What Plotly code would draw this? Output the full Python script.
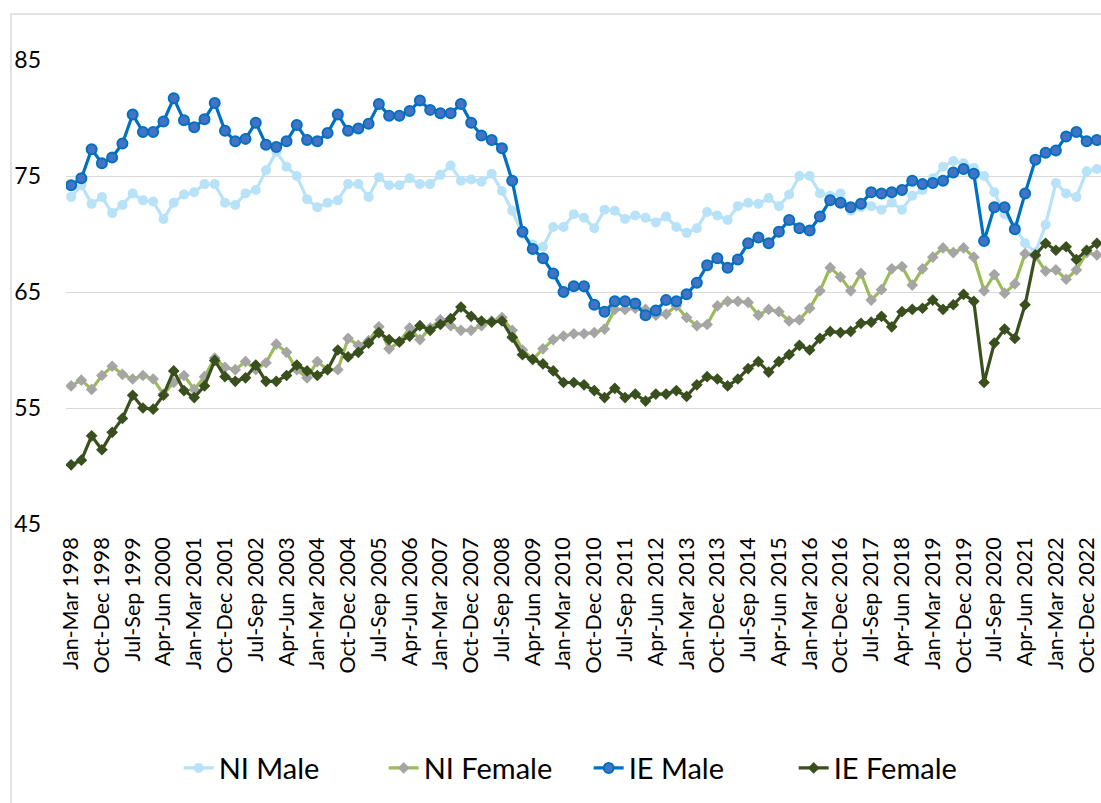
import plotly.graph_objects as go

QUARTERS = ["Jan-Mar", "Apr-Jun", "Jul-Sep", "Oct-Dec"]
START_YEAR = 1998
N_POINTS = 101
CATEGORIES = [f"{QUARTERS[i % 4]} {START_YEAR + i // 4}" for i in range(N_POINTS)]
TICK_LABELS = CATEGORIES[::3]

NI_MALE = [
    73.2, 74.2, 72.6, 73.2, 71.8, 72.5, 73.5, 72.9, 72.8, 71.3,
    72.7, 73.4, 73.6, 74.3, 74.3, 72.7, 72.5, 73.5, 73.8, 75.5,
    77.1, 75.8, 75.0, 73.0, 72.3, 72.7, 72.9, 74.3, 74.3, 73.2,
    74.9, 74.2, 74.2, 74.8, 74.3, 74.3, 75.1, 75.9, 74.6, 74.7,
    74.5, 75.2, 73.7, 72.0, 70.0, 69.1, 68.9, 70.6, 70.6, 71.7,
    71.4, 70.5, 72.1, 72.0, 71.3, 71.6, 71.4, 71.0, 71.5, 70.6,
    70.1, 70.5, 71.9, 71.6, 71.2, 72.4, 72.7, 72.6, 73.1, 72.4,
    73.4, 75.0, 75.0, 73.5, 73.3, 73.5, 72.0, 72.3, 72.4, 72.1,
    72.7, 72.1, 73.3, 73.8, 74.8, 75.8, 76.3, 76.1, 75.7, 75.0,
    73.6, 71.7, 70.6, 69.2, 68.4, 70.8, 74.4, 73.5, 73.2, 75.4,
    75.6,
]

NI_FEMALE = [
    56.9, 57.4, 56.6, 57.8, 58.6, 57.9, 57.5, 57.8, 57.5, 56.2,
    57.2, 57.8, 56.6, 57.7, 59.3, 58.5, 58.3, 59.0, 58.3, 58.9,
    60.5, 59.8, 58.3, 57.6, 59.0, 58.3, 58.3, 61.0, 60.4, 60.8,
    62.0, 60.1, 60.7, 61.9, 60.9, 61.9, 62.6, 62.1, 61.7, 61.7,
    62.1, 62.5, 62.8, 61.7, 60.0, 59.2, 60.1, 60.9, 61.2, 61.4,
    61.4, 61.5, 61.8, 63.5, 63.5, 63.6, 63.5, 63.0, 63.1, 63.8,
    62.8, 62.1, 62.2, 63.8, 64.2, 64.2, 64.1, 63.0, 63.5, 63.3,
    62.5, 62.6, 63.6, 65.1, 67.1, 66.3, 65.1, 66.6, 64.3, 65.2,
    67.0, 67.2, 65.6, 67.0, 68.0, 68.8, 68.4, 68.8, 68.0, 65.1,
    66.5, 64.9, 65.7, 68.3, 68.1, 66.8, 66.9, 66.1, 66.9, 68.4,
    68.2,
]

IE_MALE = [
    74.2, 74.8, 77.3, 76.1, 76.6, 77.8, 80.3, 78.8, 78.8, 79.7,
    81.7, 79.8, 79.2, 79.9, 81.3, 78.9, 78.0, 78.2, 79.6, 77.7,
    77.5, 78.0, 79.4, 78.1, 78.0, 78.7, 80.3, 78.9, 79.1, 79.5,
    81.2, 80.2, 80.2, 80.6, 81.5, 80.7, 80.4, 80.4, 81.2, 79.6,
    78.5, 78.1, 77.4, 74.6, 70.2, 68.7, 67.9, 66.6, 65.0, 65.5,
    65.5, 63.9, 63.3, 64.2, 64.2, 64.0, 63.0, 63.4, 64.3, 64.2,
    64.8, 65.8, 67.3, 67.9, 67.1, 67.8, 69.2, 69.7, 69.2, 70.2,
    71.2, 70.5, 70.3, 71.5, 72.9, 72.7, 72.3, 72.6, 73.6, 73.5,
    73.6, 73.8, 74.6, 74.3, 74.4, 74.6, 75.3, 75.6, 75.2, 69.4,
    72.3, 72.3, 70.4, 73.5, 76.4, 77.0, 77.2, 78.4, 78.8, 78.0,
    78.1,
]

IE_FEMALE = [
    50.1, 50.5, 52.6, 51.4, 52.9, 54.1, 56.1, 55.0, 54.9, 56.1,
    58.2, 56.5, 55.9, 56.9, 59.1, 57.7, 57.3, 57.6, 58.7, 57.3,
    57.3, 57.8, 58.7, 58.2, 57.8, 58.3, 60.0, 59.4, 59.8, 60.6,
    61.5, 60.9, 60.7, 61.2, 62.1, 61.7, 62.2, 62.7, 63.7, 62.9,
    62.5, 62.4, 62.5, 61.1, 59.6, 59.2, 58.8, 58.2, 57.2, 57.2,
    57.0, 56.5, 55.9, 56.7, 55.9, 56.2, 55.6, 56.2, 56.2, 56.5,
    56.0, 57.0, 57.7, 57.5, 56.9, 57.5, 58.4, 59.0, 58.1, 59.0,
    59.6, 60.4, 60.0, 61.0, 61.6, 61.5, 61.6, 62.3, 62.4, 62.9,
    62.0, 63.3, 63.5, 63.6, 64.3, 63.5, 63.9, 64.8, 64.2, 57.2,
    60.6, 61.8, 61.0, 63.9, 68.2, 69.2, 68.6, 68.9, 67.8, 68.6,
    69.2,
]

Y_TICKS = [45, 55, 65, 75, 85]

FONT = "Lato, 'Open Sans', sans-serif"

fig = go.Figure()

fig.add_trace(go.Scatter(
    x=CATEGORIES, y=NI_MALE, name="NI Male", mode="lines+markers",
    line=dict(color="#B7E2F8", width=3.2),
    marker=dict(symbol="circle", size=10, color="#B7E2F8"),
))
fig.add_trace(go.Scatter(
    x=CATEGORIES, y=NI_FEMALE, name="NI Female", mode="lines+markers",
    line=dict(color="#9BBB59", width=3.2),
    marker=dict(symbol="diamond", size=9, color="#A5A5A5"),
))
fig.add_trace(go.Scatter(
    x=CATEGORIES, y=IE_MALE, name="IE Male", mode="lines+markers",
    line=dict(color="#0070C0", width=3.2),
    marker=dict(symbol="circle", size=10, color="#4472C4",
                line=dict(color="#0070C0", width=2)),
))
fig.add_trace(go.Scatter(
    x=CATEGORIES, y=IE_FEMALE, name="IE Female", mode="lines+markers",
    line=dict(color="#3A4F1E", width=3.2),
    marker=dict(symbol="diamond", size=9, color="#3A4F1E"),
))

fig.update_layout(
    width=1101, height=803,
    margin=dict(l=66, r=0, t=60, b=279),
    paper_bgcolor="white", plot_bgcolor="white",
    font=dict(family=FONT, color="#000000"),
    showlegend=True,
    legend=dict(
        orientation="h", x=0.505, xanchor="center", y=-0.526, yanchor="middle",
        font=dict(size=29, family=FONT, color="#000000"),
        entrywidth=160, entrywidthmode="pixels", tracegroupgap=0,
    ),
    xaxis=dict(
        type="category", range=[-0.5, 100.4],
        tickmode="array", tickvals=TICK_LABELS, ticktext=TICK_LABELS,
        tickangle=-90, tickfont=dict(size=21.5, family=FONT),
        showgrid=False, showline=False, zeroline=False, ticks="",
        ticklabelstandoff=8,
    ),
    yaxis=dict(
        range=[45, 85], tickvals=Y_TICKS,
        tickfont=dict(size=23, family=FONT),
        gridcolor="#D9D9D9", gridwidth=1.3, showline=False, zeroline=False,
        ticks="", ticklabelstandoff=24,
    ),
    shapes=[
        dict(type="rect", xref="paper", yref="paper",
             x0=(11 - 66) / 1035, x1=1.2, y0=-1.0, y1=(524 - 14) / 464,
             line=dict(color="#D9D9D9", width=1.5), fillcolor="rgba(0,0,0,0)",
             layer="below"),
    ],
)

fig.write_html(
    "out.html",
    config={"displayModeBar": False},
    post_script="document.body.style.margin='0';document.body.style.overflow='hidden';",
)
